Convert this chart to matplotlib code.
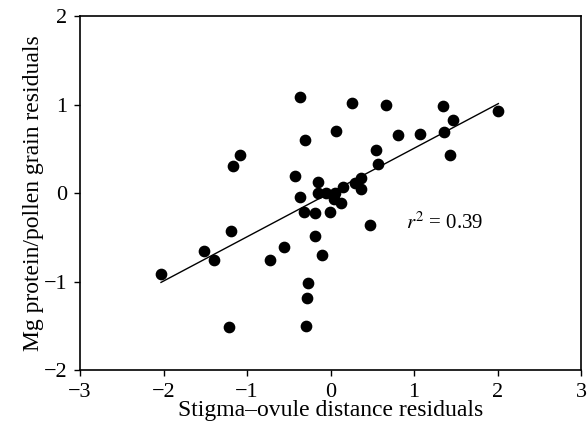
import matplotlib
matplotlib.use("Agg")
import matplotlib.pyplot as plt

# Residuals
stigma_ovule = [-0.36, 0.26, 0.67, 1.35, 2.01, 1.47, 0.07, 0.81, 1.07, 1.36,
                -0.31, 0.55, 1.43, -1.08, -1.17, 0.57, -0.42, 0.37, -0.15, 0.15,
                0.29, 0.36, -0.15, -0.05, 0.05, -0.37, 0.04, 0.13, -0.32, -0.18,
                -0.01, 0.47, -1.19, -0.18, -1.51, -0.56, -1.40, -0.72, -0.10, -2.03,
                -0.27, -0.28, -1.21, -0.29]
mg_protein = [1.09, 1.02, 1.00, 0.98, 0.93, 0.83, 0.70, 0.66, 0.67, 0.69,
              0.60, 0.49, 0.43, 0.43, 0.30, 0.33, 0.19, 0.17, 0.12, 0.07,
              0.11, 0.05, 0.00, 0.00, 0.00, -0.05, -0.07, -0.11, -0.22, -0.23,
              -0.22, -0.36, -0.43, -0.49, -0.65, -0.61, -0.76, -0.76, -0.70, -0.92,
              -1.02, -1.19, -1.51, -1.50]

# regression line endpoints
fit_x = [-2.03, 2.01]
fit_y = [-1.01, 1.01]

x_ticks = [-3, -2, -1, 0, 1, 2, 3]
y_ticks = [-2, -1, 0, 1, 2]

plt.rcParams['font.family'] = ['Liberation Serif', 'DejaVu Serif']
plt.rcParams['mathtext.fontset'] = 'stix'

fig = plt.figure(figsize=(5.87, 4.30), dpi=100)
ax = fig.add_axes([0.1363, 0.1395, 0.8535, 0.8233])

ax.plot(fit_x, fit_y, color='black', linewidth=1.0)
ax.scatter(stigma_ovule, mg_protein, s=55, color='black', zorder=3)

ax.text(0.91, -0.34, r'$r^2$ = 0.39', fontsize=15, va='center', ha='left')

ax.set_xlim(-3, 3)
ax.set_ylim(-2, 2)
ax.set_xticks(x_ticks)
ax.set_yticks(y_ticks)
ax.set_xticklabels(['\u22123', '\u22122', '\u22121', '0', '1', '2', '3'])
ax.set_yticklabels(['\u22122', '\u22121', '0', '1', '2'])
ax.tick_params(direction='out', length=4, width=1, labelsize=16)
ax.tick_params(axis='x', pad=5)
ax.tick_params(axis='y', pad=5)

ax.set_xlabel('Stigma\u2013ovule distance residuals', fontsize=17, labelpad=-1)
ax.set_ylabel('Mg protein/pollen grain residuals', fontsize=17, labelpad=0)

for s in ax.spines.values():
    s.set_linewidth(1.2)

fig.savefig('out.png', dpi=100)
